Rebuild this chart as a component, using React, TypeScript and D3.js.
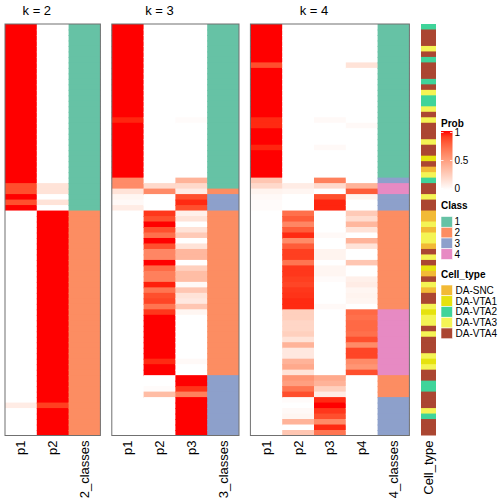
import React from 'react';
import * as d3 from 'd3';

// ---------------- data ----------------
const k2_p1 = [
  1, 1, 1, 1, 1, 1, 1, 1, 1, 1,
  1, 1, 1, 1, 1, 1, 1, 1, 1, 1,
  1, 1, 1, 1, 1, 1, 1, 1, 1, 0.85,
  0.85, 1, 0.85, 1, 0, 0, 0, 0, 0, 0,
  0, 0, 0, 0, 0, 0, 0, 0, 0, 0,
  0, 0, 0, 0, 0, 0, 0, 0, 0, 0,
  0, 0, 0, 0, 0, 0, 0, 0, 0, 0.1,
  0, 0, 0, 0, 0,
];
const k2_p2 = [
  0, 0, 0, 0, 0, 0, 0, 0, 0, 0,
  0, 0, 0, 0, 0, 0, 0, 0, 0, 0,
  0, 0, 0, 0, 0, 0, 0, 0, 0, 0.15,
  0.15, 0, 0.15, 0, 1, 1, 1, 1, 1, 1,
  1, 1, 1, 1, 1, 1, 1, 1, 1, 1,
  1, 1, 1, 1, 1, 1, 1, 1, 1, 1,
  1, 1, 1, 1, 1, 1, 1, 1, 1, 0.9,
  1, 1, 1, 1, 1,
];
const k2_class = [
  1, 1, 1, 1, 1, 1, 1, 1, 1, 1,
  1, 1, 1, 1, 1, 1, 1, 1, 1, 1,
  1, 1, 1, 1, 1, 1, 1, 1, 1, 1,
  1, 1, 1, 1, 2, 2, 2, 2, 2, 2,
  2, 2, 2, 2, 2, 2, 2, 2, 2, 2,
  2, 2, 2, 2, 2, 2, 2, 2, 2, 2,
  2, 2, 2, 2, 2, 2, 2, 2, 2, 2,
  2, 2, 2, 2, 2,
];

const k3_p1 = [
  1, 1, 1, 1, 1, 1, 1, 1, 1, 1,
  1, 1, 1, 1, 1, 1, 1, 0.96, 1, 1,
  1, 1, 1, 1, 1, 1, 1, 1, 0.6, 0.6,
  0.15, 0.05, 0.03, 0.1, 0, 0, 0, 0, 0, 0,
  0, 0, 0, 0, 0, 0, 0, 0, 0, 0,
  0, 0, 0, 0, 0, 0, 0, 0, 0, 0,
  0, 0, 0, 0, 0, 0, 0, 0, 0, 0,
  0, 0, 0, 0, 0,
];
const k3_p2 = [
  0, 0, 0, 0, 0, 0, 0, 0, 0, 0,
  0, 0, 0, 0, 0, 0, 0, 0, 0, 0,
  0, 0, 0, 0, 0, 0, 0, 0, 0, 0.2,
  0.6, 0, 0, 0, 0.92, 0.85, 1, 0.85, 0.72, 1,
  0.85, 0.62, 0.62, 1, 0.75, 0.65, 0.65, 0.97, 0.7, 0.85,
  0.88, 0.7, 0.92, 1, 1, 1, 1, 1, 1, 1,
  1, 0.95, 1, 1, 0, 0, 0.02, 0.35, 0, 0,
  0, 0, 0, 0, 0,
];
const k3_p3 = [
  0, 0, 0, 0, 0, 0, 0, 0, 0, 0,
  0, 0, 0, 0, 0, 0, 0, 0.02, 0, 0,
  0, 0, 0, 0, 0, 0, 0, 0, 0.4, 0.2,
  0.1, 0.85, 0.95, 0.85, 0.08, 0.15, 0, 0.15, 0.28, 0,
  0.15, 0.38, 0.38, 0, 0.25, 0.35, 0.35, 0.03, 0.3, 0.15,
  0.12, 0.3, 0.05, 0, 0, 0, 0, 0, 0, 0,
  0, 0.03, 0, 0, 1, 1, 0.93, 0.65, 1, 1,
  1, 1, 1, 1, 1,
];
const k3_class = [
  1, 1, 1, 1, 1, 1, 1, 1, 1, 1,
  1, 1, 1, 1, 1, 1, 1, 1, 1, 1,
  1, 1, 1, 1, 1, 1, 1, 1, 1, 1,
  2, 3, 3, 3, 2, 2, 2, 2, 2, 2,
  2, 2, 2, 2, 2, 2, 2, 2, 2, 2,
  2, 2, 2, 2, 2, 2, 2, 2, 2, 2,
  2, 2, 2, 2, 3, 3, 3, 3, 3, 3,
  3, 3, 3, 3, 3,
];

const k4_p1 = [
  1, 1, 1, 1, 1, 1, 1, 0.85, 1, 1,
  1, 1, 1, 1, 1, 1, 1, 0.95, 0.95, 1,
  1, 1, 0.96, 1, 1, 1, 1, 1, 0.3, 0.2,
  0.06, 0.03, 0.02, 0.02, 0, 0, 0, 0, 0, 0,
  0, 0, 0, 0, 0, 0, 0, 0, 0, 0,
  0, 0, 0, 0, 0, 0, 0, 0, 0, 0,
  0, 0, 0, 0, 0, 0, 0, 0, 0, 0,
  0, 0, 0, 0, 0,
];
const k4_p2 = [
  0, 0, 0, 0, 0, 0, 0, 0, 0, 0,
  0, 0, 0, 0, 0, 0, 0, 0, 0, 0,
  0, 0, 0, 0, 0, 0, 0, 0, 0, 0.1,
  0.05, 0, 0, 0, 0.72, 0.8, 0.62, 0.8, 0.95, 0.6,
  0.8, 0.9, 0.9, 0.7, 0.92, 0.92, 0.9, 0.88, 0.92, 0.93,
  0.95, 0.95, 0.25, 0.25, 0.22, 0.22, 0.25, 0.15, 0.4, 0.12,
  0.12, 0.4, 0.45, 0.15, 0.55, 0.5, 0.7, 0.85, 0.02, 0,
  0.03, 0.05, 0.4, 0, 0.3,
];
const k4_p3 = [
  0, 0, 0, 0, 0, 0, 0, 0, 0, 0,
  0, 0, 0, 0, 0, 0, 0, 0.03, 0, 0,
  0, 0, 0.03, 0, 0, 0, 0, 0, 0.65, 0.2,
  0, 0.85, 0.96, 0.96, 0, 0, 0, 0, 0.03, 0,
  0, 0.06, 0.06, 0, 0.05, 0.05, 0.02, 0, 0, 0,
  0, 0.03, 0, 0, 0, 0, 0, 0, 0, 0,
  0, 0, 0, 0, 0.45, 0.4, 0.25, 0.1, 0.95, 1,
  0.92, 0.85, 0.6, 0.95, 0.7,
];
const k4_p4 = [
  0, 0, 0, 0, 0, 0, 0, 0.15, 0, 0,
  0, 0, 0, 0, 0, 0, 0, 0, 0.03, 0,
  0, 0, 0, 0, 0, 0, 0, 0, 0, 0.4,
  0.8, 0.06, 0, 0, 0.28, 0.18, 0.38, 0.15, 0, 0.4,
  0.15, 0, 0, 0.3, 0, 0, 0.08, 0.1, 0.05, 0.06,
  0.05, 0, 0.75, 0.72, 0.75, 0.75, 0.72, 0.85, 0.6, 0.88,
  0.88, 0.6, 0.55, 0.85, 0, 0, 0, 0, 0, 0,
  0, 0, 0, 0, 0,
];
const k4_class = [
  1, 1, 1, 1, 1, 1, 1, 1, 1, 1,
  1, 1, 1, 1, 1, 1, 1, 1, 1, 1,
  1, 1, 1, 1, 1, 1, 1, 1, 3, 4,
  4, 3, 3, 3, 2, 2, 2, 2, 2, 2,
  2, 2, 2, 2, 2, 2, 2, 2, 2, 2,
  2, 2, 4, 4, 4, 4, 4, 4, 4, 4,
  4, 4, 4, 4, 2, 2, 2, 2, 3, 3,
  3, 3, 3, 3, 3,
];

const cellType = [
  'DA-VTA2', 'DA-VTA4', 'DA-VTA4', 'DA-VTA4', 'DA-VTA3', 'DA-VTA4', 'DA-VTA2', 'DA-VTA4', 'DA-VTA4', 'DA-VTA4',
  'DA-VTA2', 'DA-VTA4', 'DA-VTA3', 'DA-VTA2', 'DA-VTA2', 'DA-VTA3', 'DA-VTA4', 'DA-VTA3', 'DA-VTA4', 'DA-VTA4',
  'DA-VTA4', 'DA-VTA3', 'DA-VTA4', 'DA-VTA4', 'DA-VTA1', 'DA-VTA4', 'DA-SNC', 'DA-VTA3', 'DA-VTA2', 'DA-VTA4',
  'DA-VTA4', 'DA-VTA3', 'DA-VTA4', 'DA-VTA4', 'DA-SNC', 'DA-SNC', 'DA-VTA3', 'DA-SNC', 'DA-VTA3', 'DA-VTA3',
  'DA-SNC', 'DA-VTA4', 'DA-VTA3', 'DA-VTA4', 'DA-VTA1', 'DA-SNC', 'DA-VTA4', 'DA-VTA3', 'DA-SNC', 'DA-VTA4',
  'DA-VTA4', 'DA-VTA3', 'DA-VTA1', 'DA-VTA3', 'DA-VTA3', 'DA-VTA4', 'DA-VTA3', 'DA-VTA4', 'DA-VTA4', 'DA-VTA4',
  'DA-VTA3', 'DA-VTA1', 'DA-VTA3', 'DA-VTA4', 'DA-VTA4', 'DA-VTA2', 'DA-VTA2', 'DA-VTA4', 'DA-VTA4', 'DA-VTA4',
  'DA-VTA3', 'DA-VTA2', 'DA-VTA4', 'DA-VTA4', 'DA-VTA4',
];

const classLevels = ['1', '2', '3', '4'];
const classColors = ['#66C2A5', '#FC8D62', '#8DA0CB', '#E78AC3'];
const cellTypeLevels = ['DA-SNC', 'DA-VTA1', 'DA-VTA2', 'DA-VTA3', 'DA-VTA4'];
const cellTypeColors = ['#F2BA36', '#E6E20F', '#3FD49A', '#F4F455', '#AB4632'];
const probTicks = [0, 0.5, 1];

// ---------------- layout ----------------
const FONT = 'Liberation Sans, Arial, Helvetica, sans-serif';
const TOP = 24;
const BOTTOM = 435.5;
const COLW = 31.8;
const GAP = 11.4;

const panels = [
  { k: 2, cols: [k2_p1, k2_p2], cls: k2_class },
  { k: 3, cols: [k3_p1, k3_p2, k3_p3], cls: k3_class },
  { k: 4, cols: [k4_p1, k4_p2, k4_p3, k4_p4], cls: k4_class },
];

export default function App() {
  const n = cellType.length;
  const y = d3.scaleBand<number>().domain(d3.range(n)).range([TOP, BOTTOM]);
  const prob = d3
    .scaleLinear<string>()
    .domain([0, 1])
    .range(['#FFFFFF', '#FF0000'])
    .interpolate(d3.interpolateLab);
  const classColor = d3.scaleOrdinal<string, string>().domain(classLevels).range(classColors);
  const ctColor = d3.scaleOrdinal<string, string>().domain(cellTypeLevels).range(cellTypeColors);
  const bh = y.bandwidth();
  const rowH = (ri: number) => (ri === n - 1 ? bh : bh + 1);

  let x0 = 5;
  const panelEls: React.ReactNode[] = [];
  panels.forEach((p, pi) => {
    const names = [...p.cols.map((_, i) => `p${i + 1}`), `${p.k}_classes`];
    const x = d3.scaleBand<string>().domain(names).range([x0, x0 + names.length * COLW]);
    const bw = x.bandwidth();
    const probNames = names.slice(0, -1);
    const titleX = (x(probNames[0])! + x(probNames[probNames.length - 1])! + bw) / 2;
    panelEls.push(
      <g key={pi}>
        <text x={titleX} y={15} textAnchor="middle" fontSize={13} fontFamily={FONT}>
          {`k = ${p.k}`}
        </text>
        {p.cols.map((col, ci) =>
          col.map((v, ri) => (
            <rect
              key={`${ci}-${ri}`}
              x={x(names[ci])}
              y={y(ri)}
              width={bw + 1}
              height={rowH(ri)}
              fill={prob(v)}
            />
          ))
        )}
        {p.cls.map((c, ri) => (
          <rect
            key={`c-${ri}`}
            x={x(names[names.length - 1])}
            y={y(ri)}
            width={bw}
            height={rowH(ri)}
            fill={classColor(String(c))}
          />
        ))}
        <rect
          x={x0}
          y={TOP}
          width={names.length * COLW}
          height={BOTTOM - TOP}
          fill="none"
          stroke="#707070"
          strokeWidth={1}
        />
        {names.map((nm) => (
          <text
            key={nm}
            transform={`translate(${x(nm)! + bw / 2},${BOTTOM + 5}) rotate(-90)`}
            textAnchor="end"
            dy="0.35em"
            fontSize={13}
            fontFamily={FONT}
          >
            {nm}
          </text>
        ))}
      </g>
    );
    x0 = x0 + names.length * COLW + GAP;
  });

  // cell type annotation column
  const ctX = 421;
  const ctW = 15;

  // legend
  const LX = 441;
  const gradTop = 131;
  const gradBot = 190;
  const gy = d3.scaleLinear().domain([0, 1]).range([gradBot - 1.5, gradTop + 1.5]);
  const swH = 10.75;
  const classTop = 216.5;
  const ctTop = 285;

  return (
    <svg
      width={504}
      height={504}
      style={{ position: 'absolute', left: 0, top: 0, background: '#fff' }}
      fontFamily={FONT}
    >
      <rect x={0} y={0} width={504} height={504} fill="#fff" />
      <defs>
        <linearGradient id="probGrad" x1="0" y1="1" x2="0" y2="0">
          {d3.range(0, 1.0001, 0.1).map((t) => (
            <stop key={t} offset={t} stopColor={prob(t)} />
          ))}
        </linearGradient>
      </defs>
      {panelEls}
      {cellType.map((c, ri) => (
        <rect key={ri} x={ctX} y={y(ri)} width={ctW} height={rowH(ri)} fill={ctColor(c)} />
      ))}
      <text
        transform={`translate(${ctX + ctW / 2},${BOTTOM + 5}) rotate(-90)`}
        textAnchor="end"
        dy="0.35em"
        fontSize={13}
        fontFamily={FONT}
      >
        Cell_type
      </text>

      {/* Prob legend */}
      <text x={LX} y={126.5} fontSize={10} fontWeight="bold" fontFamily={FONT}>
        Prob
      </text>
      <rect x={LX} y={gradTop} width={11.5} height={gradBot - gradTop} fill="url(#probGrad)" />
      {probTicks.map((t) => (
        <g key={t}>
          <line x1={LX} x2={LX + 2.5} y1={gy(t)} y2={gy(t)} stroke="#fff" strokeWidth={0.8} />
          <line x1={LX + 9} x2={LX + 11.5} y1={gy(t)} y2={gy(t)} stroke="#fff" strokeWidth={0.8} />
          <text x={LX + 13.5} y={gy(t)} dy="0.35em" fontSize={10} fontFamily={FONT}>
            {String(t)}
          </text>
        </g>
      ))}

      {/* Class legend */}
      <text x={LX} y={209} fontSize={10} fontWeight="bold" fontFamily={FONT}>
        Class
      </text>
      {classLevels.map((c, i) => (
        <g key={c}>
          <rect x={LX} y={classTop + i * swH} width={11.5} height={swH} fill={classColor(c)} stroke="#fff" strokeWidth={0.6} />
          <text x={LX + 13.5} y={classTop + i * swH + swH / 2} dy="0.35em" fontSize={10} fontFamily={FONT}>
            {c}
          </text>
        </g>
      ))}

      {/* Cell type legend */}
      <text x={LX} y={277.5} fontSize={10} fontWeight="bold" fontFamily={FONT}>
        Cell_type
      </text>
      {cellTypeLevels.map((c, i) => (
        <g key={c}>
          <rect x={LX} y={ctTop + i * swH} width={11.5} height={swH} fill={ctColor(c)} stroke="#fff" strokeWidth={0.6} />
          <text x={LX + 14.5} y={ctTop + i * swH + swH / 2} dy="0.35em" fontSize={10} fontFamily={FONT}>
            {c}
          </text>
        </g>
      ))}
    </svg>
  );
}
